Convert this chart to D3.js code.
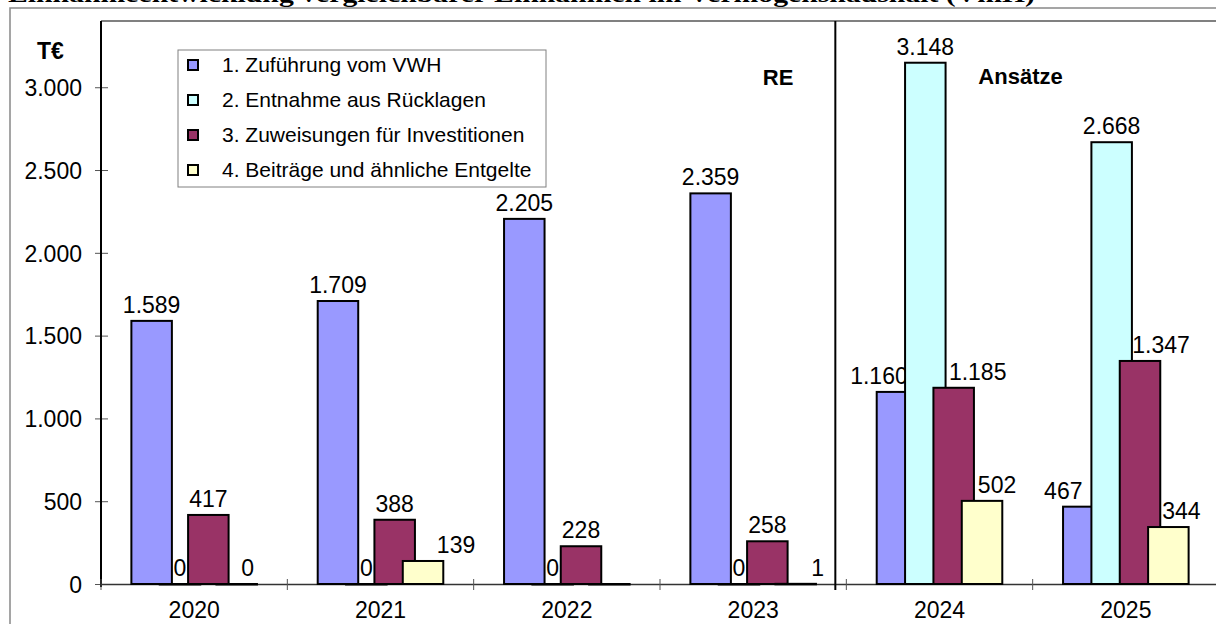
<!DOCTYPE html>
<html>
<head>
<meta charset="utf-8">
<script src="https://cdn.jsdelivr.net/npm/d3@7"></script>
<style>
  body { margin: 0; background: #fff; }
  svg { display: block; font-family: "Liberation Sans", Arial, sans-serif; }
</style>
</head>
<body>
<div id="chart"></div>
<script>
// Data
const years = ["2020", "2021", "2022", "2023", "2024", "2025"];
const seriesNames = [
    "1. Zuführung vom VWH",
    "2. Entnahme aus Rücklagen",
    "3. Zuweisungen für Investitionen",
    "4. Beiträge und ähnliche Entgelte"
];
const zufuehrung = [1589, 1709, 2205, 2359, 1160, 467];
const entnahme = [0, 0, 0, 0, 3148, 2668];
const zuweisungen = [417, 388, 228, 258, 1185, 1347];
const beitraege = [0, 139, 0, 1, 502, 344];
const yTicks = [0, 500, 1000, 1500, 2000, 2500, 3000];
const colors = ["#9999ff", "#ccffff", "#993366", "#ffffcc"];

const seriesValues = [zufuehrung, entnahme, zuweisungen, beitraege];

const width = 1216, height = 624;
const de = d3.formatLocale({ decimal: ",", thousands: ".", grouping: [3], currency: ["", " €"] });
const fmt = de.format(",d");

const svg = d3.select("#chart")
    .append("svg")
    .attr("width", width)
    .attr("height", height);

// Title (cut off at the top like the original)
svg.append("text")
    .attr("x", 8)
    .attr("y", 2)
    .attr("textLength", 1027)
    .attr("lengthAdjust", "spacingAndGlyphs")
    .style("font-family", "'Liberation Serif', 'Times New Roman', serif")
    .style("font-weight", "bold")
    .style("font-size", "24px")
    .text("Einnahmeentwicklung vergleichbarer Einnahmen im Vermögenshaushalt (VmH)");

// Outer frame
svg.append("path")
    .attr("d", `M10,${height} V8 H${width}`)
    .attr("fill", "none")
    .attr("stroke", "#888")
    .attr("stroke-width", 1.5);

// Scales
const plotTop = 21, plotBottom = 584, plotLeft = 101;
const x = d3.scaleBand()
    .domain(years)
    .range([plotLeft, 1219])
    .padding(0);

const y = d3.scaleLinear()
    .domain([0, 3400])
    .range([plotBottom, plotTop]);

// bar geometry: gap width 150 %, overlap 30 %
const barW = x.bandwidth() / 4.6;
const xs = d3.scalePoint()
    .domain(d3.range(4))
    .range([0.75 * barW, 0.75 * barW + 2.1 * barW]);

// Plot area top border
svg.append("line")
    .attr("x1", plotLeft).attr("x2", width)
    .attr("y1", plotTop).attr("y2", plotTop)
    .attr("stroke", "#808080")
    .attr("stroke-width", 2);

// Y axis
const yAxis = svg.append("g")
    .attr("transform", `translate(${plotLeft},0)`)
    .call(d3.axisLeft(y).tickValues(yTicks).tickSize(6).tickFormat(fmt));
yAxis.select(".domain").remove();
yAxis.selectAll(".tick line").attr("x1", -6).attr("x2", 7).attr("stroke", "#555");
yAxis.selectAll(".tick text")
    .attr("x", -19)
    .attr("dy", "0.36em")
    .style("font-size", "23px")
    .style("font-family", "'Liberation Sans', Arial, sans-serif")
    .attr("fill", "#000");

svg.append("line")
    .attr("x1", plotLeft).attr("x2", plotLeft)
    .attr("y1", plotTop).attr("y2", plotBottom + 3)
    .attr("stroke", "#000")
    .attr("stroke-width", 2);

// X axis
const xAxis = svg.append("g")
    .attr("transform", `translate(0,${plotBottom})`)
    .call(d3.axisBottom(x).tickSize(0).tickPadding(18));
xAxis.select(".domain").attr("stroke", "#333").attr("stroke-width", 1.5);
xAxis.selectAll(".tick text")
    .style("font-size", "23px")
    .style("font-family", "'Liberation Sans', Arial, sans-serif")
    .attr("fill", "#000");
svg.append("g")
    .selectAll("line")
    .data(years)
    .enter()
    .append("line")
    .attr("x1", d => x(d)).attr("x2", d => x(d))
    .attr("y1", plotBottom - 5).attr("y2", plotBottom + 6)
    .attr("stroke", "#555");

// Divider RE | Ansätze
const divX = x("2024") - 11;
svg.append("line")
    .attr("x1", divX).attr("x2", divX)
    .attr("y1", plotTop).attr("y2", plotBottom + 6)
    .attr("stroke", "#000")
    .attr("stroke-width", 2);

svg.append("text")
    .attr("x", divX - 42)
    .attr("y", 85)
    .attr("text-anchor", "end")
    .style("font-weight", "bold")
    .style("font-size", "22px")
    .text("RE");

svg.append("text")
    .attr("x", divX + 143)
    .attr("y", 84)
    .style("font-weight", "bold")
    .style("font-size", "22px")
    .text("Ansätze");

svg.append("text")
    .attr("x", 37)
    .attr("y", 59)
    .style("font-weight", "bold")
    .style("font-size", "23px")
    .text("T€");

// labels that were moved by hand in the original
const labelShift = {
    "0-2024": -18, "0-2025": -20,
    "2-2024": 24, "2-2025": 21,
    "3-2020": 11, "3-2021": 33, "3-2023": 22, "3-2024": 15, "3-2025": 13
};
const hiddenLabels = ["3-2022"];

// Bars, series by series (later series overlap earlier ones and their labels)
seriesValues.forEach((vals, s) => {
    const rows = years.map((yr, i) => ({ year: yr, value: vals[i] }));
    const g = svg.append("g");

    g.selectAll("rect")
        .data(rows)
        .enter()
        .append("rect")
        .attr("x", d => x(d.year) + xs(s))
        .attr("y", d => y(d.value))
        .attr("width", barW)
        .attr("height", d => Math.max(y(0) - y(d.value), 0.5))
        .attr("fill", colors[s])
        .attr("stroke", "#000")
        .attr("stroke-width", 2);

    g.selectAll("text")
        .data(rows.filter(d => !hiddenLabels.includes(`${s}-${d.year}`)))
        .enter()
        .append("text")
        .attr("x", d => x(d.year) + xs(s) + barW / 2 + (labelShift[`${s}-${d.year}`] || 0))
        .attr("y", d => y(d.value) - 8)
        .attr("text-anchor", "middle")
        .style("font-size", "23px")
        .text(d => fmt(d.value));
});

// Legend
const legend = svg.append("g")
    .attr("transform", "translate(178, 50)");

legend.append("rect")
    .attr("width", 368)
    .attr("height", 137)
    .attr("fill", "#fff")
    .attr("stroke", "#808080")
    .attr("stroke-width", 1);

seriesNames.forEach((name, i) => {
    legend.append("rect")
        .attr("x", 10)
        .attr("y", 10 + i * 35)
        .attr("width", 10)
        .attr("height", 10)
        .attr("fill", colors[i])
        .attr("stroke", "#000")
        .attr("stroke-width", 2);
    legend.append("text")
        .attr("x", 44)
        .attr("y", 22 + i * 35)
        .style("font-size", "21px")
        .text(name);
});
</script>
</body>
</html>
